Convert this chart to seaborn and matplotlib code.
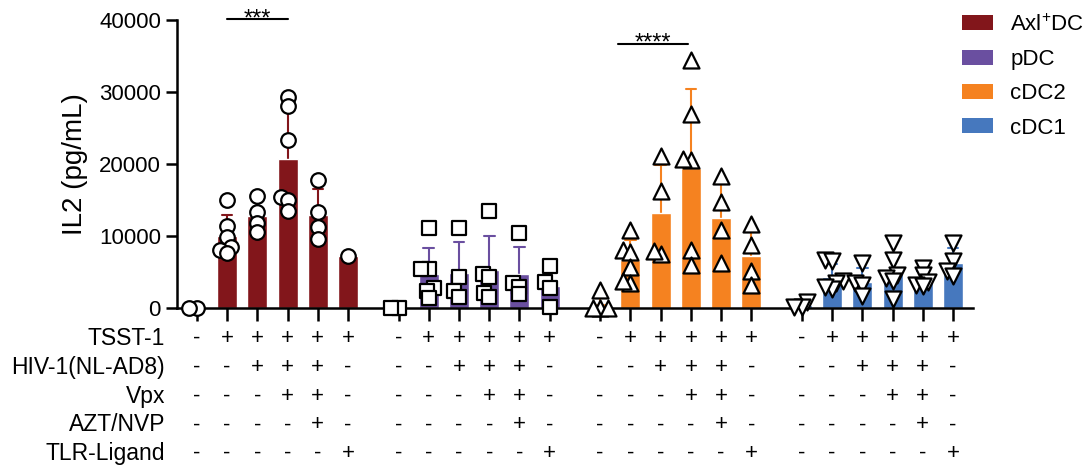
import numpy as np
import pandas as pd
import matplotlib
matplotlib.use('Agg')
import matplotlib.pyplot as plt
from matplotlib.patches import Patch
import seaborn as sns

sns.set_style('ticks')
plt.rcParams['font.family'] = ['Liberation Sans', 'DejaVu Sans']
plt.rcParams['mathtext.fontset'] = 'custom'
plt.rcParams['mathtext.rm'] = 'Liberation Sans'
plt.rcParams['mathtext.default'] = 'regular'
for k in ['text.color', 'axes.labelcolor', 'xtick.color', 'ytick.color', 'axes.edgecolor']:
    plt.rcParams[k] = 'black'

#cell types, colours and point markers
cells = ['Axl$^{+}$DC', 'pDC', 'cDC2', 'cDC1']
colors = ['#82161B', '#6A4FA0', '#F58220', '#4678BE']
markers = ['o', 's', '^', 'v']

#conditions (+/- table under the bars)
row_names = ['TSST-1', 'HIV-1(NL-AD8)', 'Vpx', 'AZT/NVP', 'TLR-Ligand']
signs = [['-', '+', '+', '+', '+', '+'],
         ['-', '-', '+', '+', '+', '-'],
         ['-', '-', '-', '+', '+', '-'],
         ['-', '-', '-', '-', '+', '-'],
         ['-', '-', '-', '-', '-', '+']]

#IL2 (pg/mL), one list of replicates per condition
axl_vals = [[0, 0],
            [15000, 11400, 9900, 8400, 8000, 7600],
            [15500, 13300, 11750, 10500],
            [29350, 28050, 23300, 15400, 15000, 13400],
            [17800, 13300, 11200, 9600],
            [7200]]
pdc_vals = [[0, 0],
            [11150, 5400, 5400, 2800, 2400, 1430],
            [11070, 4350, 2300, 1570],
            [13500, 4720, 4260, 2130, 1500],
            [10370, 3470, 2960, 1900],
            [5830, 3570, 2800, 100]]
cdc2_vals = [[2500, 0, 0, 0],
             [10830, 8050, 7800, 5650, 3500, 3750],
             [21150, 16300, 7500, 7960],
             [34500, 27000, 20600, 20700, 8000, 6000],
             [18270, 14670, 10870, 6200],
             [11670, 8750, 5100, 3200]]
cdc1_vals = [[800, 100, 100],
             [6670, 6530, 3700, 3470, 2600, 2900],
             [6300, 3500, 3200, 1600],
             [9000, 6700, 4500, 4100, 3700, 1250],
             [5600, 4600, 3650, 3200, 3000],
             [9000, 6500, 5100, 4450]]

#significance bars: group, first bar, last bar, height, label
sig_group = [0, 2]
sig_from = [0, -0.4]
sig_to = [2, 1.9]
sig_y = [40100, 36700]
sig_text = ['***', '****']

group_gap = 6.67
all_vals = [axl_vals, pdc_vals, cdc2_vals, cdc1_vals]

rows = []
for g, vals in enumerate(all_vals):
    for i, v in enumerate(vals):
        for y in v:
            rows.append({'cell': cells[g], 'pos': g * group_gap + i, 'IL2': y})
df = pd.DataFrame(rows)

fig = plt.figure(figsize=(10.92, 4.7), dpi=100)
ax = fig.add_axes([0.162, 0.345, 0.729, 0.612])

point_sizes = []
for g, cell in enumerate(cells):
    sub = df[df['cell'] == cell]
    sns.barplot(data=sub, x='pos', y='IL2', native_scale=True, orient='x',
                color=colors[g], saturation=1, width=0.66,
                errorbar='sd', capsize=0.35,
                err_kws={'color': colors[g], 'linewidth': 1.5, 'zorder': 0.9},
                ax=ax)
    n0 = len(ax.collections)
    #swarm laid out with small markers so points overlap like the original
    sns.swarmplot(data=sub, x='pos', y='IL2', native_scale=True, orient='x',
                  marker=markers[g], size=3.5,
                  color='white', edgecolor='black', linewidth=1.6,
                  warn_thresh=1, ax=ax)
    big = {'o': 10.5, 's': 10, '^': 11.5, 'v': 11.5}[markers[g]]
    for c in ax.collections[n0:]:
        point_sizes.append((c, big))

positions = [g * group_gap + i for g in range(4) for i in range(6)]
ax.set_xlim(-0.66, 3 * group_gap + 5.66)
ax.set_ylim(0, 40000)
ax.set_xticks(positions)
ax.set_xticklabels([])
ax.set_yticks([0, 10000, 20000, 30000, 40000])
ax.tick_params(axis='y', labelsize=16, length=8, width=1.8)
ax.tick_params(axis='x', length=9, width=1.8, direction='out')
for s in ['left', 'bottom']:
    ax.spines[s].set_linewidth(1.8)
sns.despine(ax=ax)
ax.set_xlabel('')
ax.set_ylabel('IL2 (pg/mL)', fontsize=20, labelpad=8)

#+/- table
trans = ax.get_xaxis_transform()
for r, name in enumerate(row_names):
    yy = -0.107 - r * 0.1
    ax.text(-1.05, yy, name, transform=trans, ha='right', va='center',
            fontsize=16.5, clip_on=False)
    for g in range(4):
        for i in range(6):
            ax.text(g * group_gap + i, yy, signs[r][i], transform=trans,
                    ha='center', va='center', fontsize=16, clip_on=False)

#significance
for k in range(len(sig_group)):
    x0 = sig_group[k] * group_gap + 1 + sig_from[k]
    x1 = sig_group[k] * group_gap + 1 + sig_to[k]
    ax.plot([x0, x1], [sig_y[k], sig_y[k]], color='black', lw=1.5, clip_on=False)
    ax.text((x0 + x1) / 2, sig_y[k] - 800, sig_text[k], ha='center', va='baseline',
            fontsize=17, clip_on=False)

handles = [Patch(facecolor=c, edgecolor='none') for c in colors]
fig.legend(handles, cells, loc='upper left', bbox_to_anchor=(0.881, 0.97),
           frameon=False, fontsize=16, handlelength=1.4, handleheight=0.65,
           handletextpad=0.77, labelspacing=0.6, borderpad=0, borderaxespad=0)

#fix the swarm layout, then draw the markers at full size
fig.canvas.draw()
for c, s in point_sizes:
    if 'draw' in c.__dict__:
        del c.draw
    c.set_sizes([s ** 2])
    c.set_clip_on(False)
    c.set_zorder(3)

fig.savefig('out.png', dpi=100)
